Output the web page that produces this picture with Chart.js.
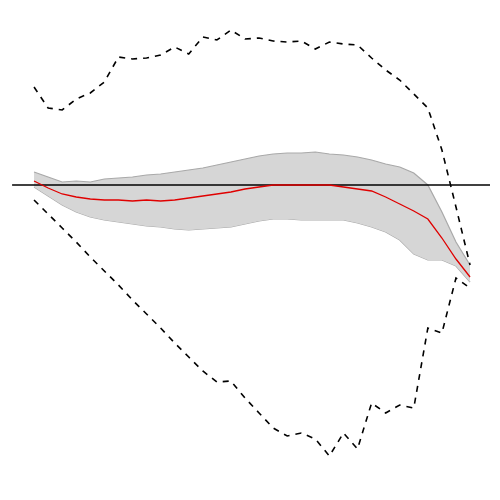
<!DOCTYPE html>
<html>
<head>
<meta charset="utf-8">
<style>
	html, body { margin: 0; padding: 0; background: #fff; }
	#chart { display: block; }
</style>
</head>
<body>
<canvas id="chart" width="500" height="500"></canvas>

<script src="https://cdn.jsdelivr.net/npm/chart.js@4/dist/chart.umd.min.js"></script>
<script type="text/javascript">
	// Шаги по оси X (0..31)
	var steps = [];
	for (var i = 0; i < 32; i++) steps.push(i);

	// Верхняя и нижняя пунктирные границы
	var upperDash = [9.8, 7.7, 7.5, 8.6, 9.2, 10.3, 12.8, 12.6, 12.7, 13.0, 13.8, 13.1, 14.8, 14.5, 15.5, 14.6,
		14.7, 14.4, 14.3, 14.4, 13.6, 14.3, 14.1, 14.0, 12.7, 11.5, 10.5, 9.1, 7.7, 3.5, -2.2, -8.0];
	var lowerDash = [-1.5, -2.9, -4.3, -5.7, -7.2, -8.6, -10.0, -11.5, -12.9, -14.3, -15.8, -17.2, -18.6, -19.7, -19.6, -21.3,
		-22.8, -24.3, -25.1, -24.8, -25.4, -27.1, -24.8, -26.4, -21.8, -22.8, -22.0, -22.3, -14.3, -14.8, -9.3, -10.3];

	// Среднее (красная линия)
	var mean = [0.4, -0.3, -0.9, -1.2, -1.4, -1.5, -1.5, -1.6, -1.5, -1.6, -1.5, -1.3, -1.1, -0.9, -0.7, -0.4,
		-0.2, 0, 0, 0, 0, 0, -0.2, -0.4, -0.6, -1.2, -1.9, -2.6, -3.4, -5.3, -7.4, -9.2];

	// Серая полоса
	var bandUpper = [1.3, 0.8, 0.3, 0.4, 0.3, 0.6, 0.7, 0.8, 1.0, 1.1, 1.3, 1.5, 1.7, 2.0, 2.3, 2.6,
		2.9, 3.1, 3.2, 3.2, 3.3, 3.1, 3.0, 2.8, 2.5, 2.1, 1.8, 1.2, 0, -2.7, -5.7, -8.0];
	var bandLower = [-0.2, -1.1, -2.0, -2.7, -3.2, -3.5, -3.7, -3.9, -4.1, -4.2, -4.4, -4.5, -4.4, -4.3, -4.2, -3.9,
		-3.6, -3.4, -3.4, -3.5, -3.5, -3.5, -3.5, -3.8, -4.2, -4.7, -5.5, -6.9, -7.5, -7.5, -8.1, -9.7];

	// Нулевая линия: от и до
	var zeroFrom = -1.56, zeroTo = 32.42;

	// Пределы осей
	var xMin = -2.42, xMax = 33.13;
	var yMin = -31.5, yMax = 18.5;

	function pts(arr){
		return arr.map(function(v, i){ return {x: steps[i], y: v}; });
	}

	var myChart = new Chart(document.getElementById("chart"), {
		type: 'line',
		data: {
			datasets: [
				{
					data: pts(bandLower),
					borderColor: "#a9a9a9",
					borderWidth: 1.2,
					pointRadius: 0,
					fill: false,
					order: 5
				},
				{
					data: pts(bandUpper),
					borderColor: "#a9a9a9",
					borderWidth: 1.2,
					backgroundColor: "#d6d6d6",
					pointRadius: 0,
					fill: '-1',
					order: 4
				},
				{
					data: pts(upperDash),
					borderColor: "#000",
					borderWidth: 1.6,
					borderDash: [6, 6],
					pointRadius: 0,
					fill: false,
					order: 3
				},
				{
					data: pts(lowerDash),
					borderColor: "#000",
					borderWidth: 1.6,
					borderDash: [6, 6],
					pointRadius: 0,
					fill: false,
					order: 3
				},
				{
					data: [{x: zeroFrom, y: 0}, {x: zeroTo, y: 0}],
					borderColor: "#000",
					borderWidth: 1.3,
					pointRadius: 0,
					fill: false,
					order: 2
				},
				{
					data: pts(mean),
					borderColor: "#e00000",
					borderWidth: 1.3,
					pointRadius: 0,
					fill: false,
					order: 1
				}
			]
		},
		options: {
			responsive: false,
			animation: false,
			layout: { padding: 0 },
			scales: {
				x: { type: 'linear', min: xMin, max: xMax, display: false },
				y: { min: yMin, max: yMax, display: false }
			},
			plugins: {
				legend: { display: false },
				tooltip: { enabled: false }
			}
		}
	});
</script>
</body>
</html>
